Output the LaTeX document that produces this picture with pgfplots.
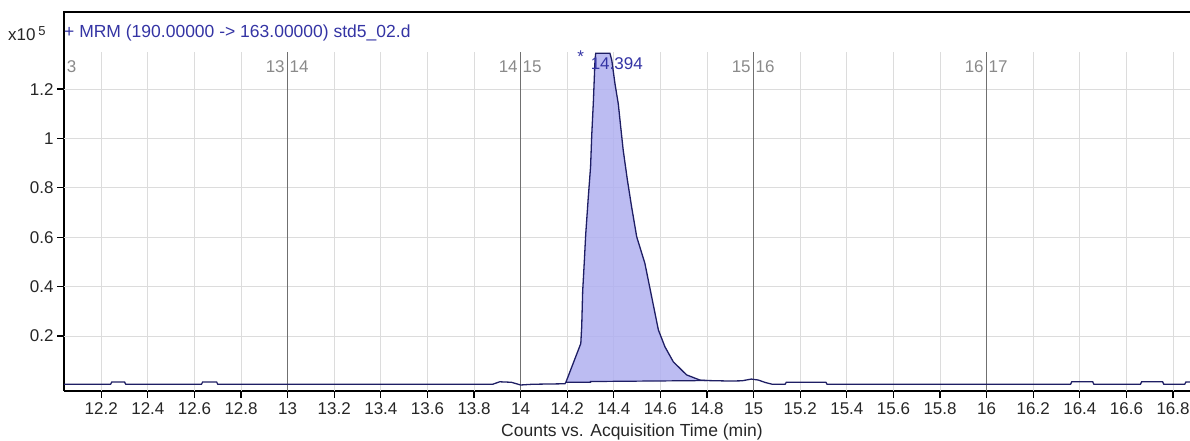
\documentclass[border=0pt]{standalone}
\usepackage{fontspec}
\setmainfont{Liberation Sans}
\usepackage{pgfplots}
\pgfplotsset{compat=1.18}
\definecolor{trace}{HTML}{1E1E64}
\definecolor{peakfill}{HTML}{B0B0F0}
\definecolor{ttl}{HTML}{3434A4}
\definecolor{lgrid}{HTML}{DCDCDC}
\definecolor{dgrid}{HTML}{707070}
\definecolor{seglab}{HTML}{8A8A8A}
\newcommand\lf{\fontsize{17bp}{20bp}\selectfont}
\newcommand\tf{\fontsize{17.5bp}{20bp}\selectfont}
\begin{document}
\begin{tikzpicture}[x=1bp,y=1bp]
\begin{axis}[
  at={(64bp,50bp)}, anchor=south west,
  scale only axis, width=1126bp, height=379bp,
  xmin=12.040, xmax=16.8725, ymin=-0.0223, ymax=1.5121,
  axis x line*=bottom, axis y line*=left,
  axis line style={black, line width=2bp, -},
  xtick={12.2,12.4,12.6,12.8,13,13.2,13.4,13.6,13.8,14,14.2,14.4,14.6,14.8,15,15.2,15.4,15.6,15.8,16,16.2,16.4,16.6,16.8},
  ytick={0.2,0.4,0.6,0.8,1,1.2},
  tick style={black, line width=1.2bp},
  major tick length=7bp,
  tick align=outside,
  ticklabel style={font=\lf, text=black!85},
  xticklabel style={yshift=-1.5bp},
  /pgf/number format/assume math mode=true,
  xlabel={Counts vs. Acquisition Time (min)},
  xlabel style={font=\tf, text=black!85, at={(axis description cs:0.5,0)}, anchor=center, yshift=-40.7bp, xshift=5bp},
  clip=true,
]
% light grid
\pgfplotsinvokeforeach{12.2,12.4,12.6,12.8,13.2,13.4,13.6,13.8,14.2,14.4,14.6,14.8,15.2,15.4,15.6,15.8,16.2,16.4,16.6,16.8}{
  \draw[lgrid, line width=1bp] (axis cs:#1,-0.0223) -- (axis cs:#1,1.352);
}
\pgfplotsinvokeforeach{0.2,0.4,0.6,0.8,1,1.2}{
  \draw[lgrid, line width=1bp] (axis cs:12.04,#1) -- (axis cs:16.8725,#1);
}
% segment boundaries
\pgfplotsinvokeforeach{13,14,15,16}{
  \draw[dgrid, line width=1.3bp] (axis cs:#1,-0.0223) -- (axis cs:#1,1.352);
}
% peak fill
\addplot[draw=none, fill=peakfill, fill opacity=0.85] coordinates {
(14.194,0.013) (14.258,0.17) (14.262,0.24) (14.266,0.38) (14.273,0.50)
(14.279,0.61) (14.290,0.76) (14.300,0.886) (14.305,1.014) (14.312,1.149)
(14.319,1.317) (14.322,1.345) (14.383,1.345) (14.391,1.317) (14.405,1.22)
(14.419,1.14) (14.429,1.05) (14.440,0.953) (14.458,0.832) (14.476,0.724)
(14.498,0.602) (14.533,0.495) (14.562,0.36) (14.591,0.225) (14.619,0.157)
(14.655,0.096) (14.712,0.043) (14.769,0.022) (14.80,0.020)
(14.30,0.016) (14.30,0.013)
} -- cycle;
% integration baseline
\addplot[trace, line width=1.2bp] coordinates {
(14.194,0.013) (14.30,0.013) (14.30,0.016) (14.80,0.020)
};
% chromatogram trace
\addplot[trace, line width=1.3bp] coordinates {
(12.040,0.005) (12.240,0.005) (12.245,0.014) (12.300,0.014) (12.305,0.005)
(12.630,0.005) (12.635,0.014) (12.695,0.014) (12.700,0.005)
(13.880,0.005) (13.910,0.015) (13.960,0.013) (14.000,0.002) (14.050,0.005)
(14.190,0.007) (14.194,0.013)
(14.258,0.17) (14.262,0.24) (14.266,0.38) (14.273,0.50)
(14.279,0.61) (14.290,0.76) (14.300,0.886) (14.305,1.014) (14.312,1.149)
(14.319,1.317) (14.322,1.345) (14.383,1.345) (14.391,1.317) (14.405,1.22)
(14.419,1.14) (14.429,1.05) (14.440,0.953) (14.458,0.832) (14.476,0.724)
(14.498,0.602) (14.533,0.495) (14.562,0.36) (14.591,0.225) (14.619,0.157)
(14.655,0.096) (14.712,0.043) (14.769,0.022) (14.80,0.020)
(14.900,0.018) (14.950,0.019) (14.990,0.026) (15.020,0.022) (15.050,0.012)
(15.080,0.005) (15.135,0.005) (15.140,0.013) (15.310,0.013) (15.315,0.005)
(16.360,0.005) (16.365,0.015) (16.455,0.015) (16.460,0.005)
(16.660,0.005) (16.665,0.015) (16.755,0.015) (16.760,0.005)
(16.850,0.005) (16.855,0.014) (16.8725,0.014)
};
% segment labels
\node[seglab, anchor=west, font=\lf, inner sep=0pt] at (axis cs:12.052,1.29) {3};
\pgfplotsinvokeforeach{13,14,15,16}{
  \node[seglab, anchor=east, font=\lf, inner sep=0pt] at (axis cs:#1-0.012,1.29) {\pgfmathparse{int(#1)}\pgfmathresult};
}
\node[seglab, anchor=west, font=\lf, inner sep=0pt] at (axis cs:13.008,1.29) {14};
\node[seglab, anchor=west, font=\lf, inner sep=0pt] at (axis cs:14.008,1.29) {15};
\node[seglab, anchor=west, font=\lf, inner sep=0pt] at (axis cs:15.008,1.29) {16};
\node[seglab, anchor=west, font=\lf, inner sep=0pt] at (axis cs:16.008,1.29) {17};
% peak label
\node[ttl, anchor=center, font=\lf, inner sep=0pt] at (axis cs:14.258,1.33) {*};
\node[ttl, anchor=west, font=\lf, inner sep=0pt] at (axis cs:14.300,1.305) {14.394};
\end{axis}
\draw[black, line width=1.5bp] (63bp,429bp) -- (1190bp,429bp);
\node[anchor=west, font=\lf, text=black!85, inner sep=0pt] at (8bp,407bp) {x10\,\raisebox{5bp}{\fontsize{13bp}{13bp}\selectfont 5}};
\node[anchor=west, font=\tf, text=ttl, inner sep=0pt] at (64bp,408.5bp) {+ MRM (190.00000 -> 163.00000) std5\_02.d};
\pgfresetboundingbox
\path (0,0) rectangle (1190bp,441bp);
\end{tikzpicture}
\end{document}
